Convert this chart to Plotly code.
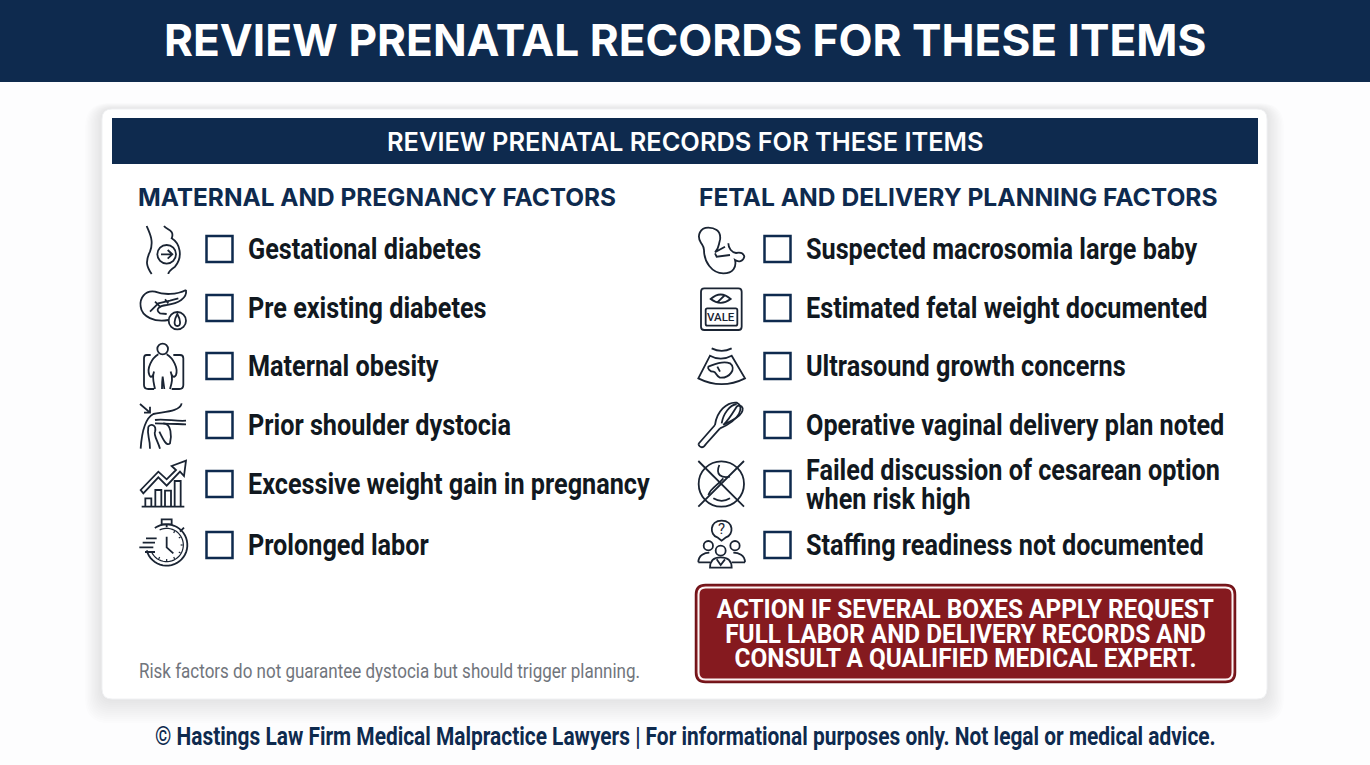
import math
import re
import json
import plotly.graph_objects as go

# ---- content ----
TITLE = "REVIEW PRENATAL RECORDS FOR THESE ITEMS"
LEFT_HEADER = "MATERNAL AND PREGNANCY FACTORS"
RIGHT_HEADER = "FETAL AND DELIVERY PLANNING FACTORS"
LEFT_ITEMS = ["Gestational diabetes", "Pre existing diabetes", "Maternal obesity",
              "Prior shoulder dystocia", "Excessive weight gain in pregnancy", "Prolonged labor"]
RIGHT_ITEMS = [["Suspected macrosomia large baby"], ["Estimated fetal weight documented"],
               ["Ultrasound growth concerns"], ["Operative vaginal delivery plan noted"],
               ["Failed discussion of cesarean option", "when risk high"],
               ["Staffing readiness not documented"]]
ACTION_LINES = ["ACTION IF SEVERAL BOXES APPLY REQUEST", "FULL LABOR AND DELIVERY RECORDS AND",
                "CONSULT A QUALIFIED MEDICAL EXPERT."]
NOTE = "Risk factors do not guarantee dystocia but should trigger planning."
FOOTER = "© Hastings Law Firm Medical Malpractice Lawyers | For informational purposes only. Not legal or medical advice."
ROW_Y = [249, 308, 366, 425, 484, 545]

NAVY = "#0E2A4E"
INK = "#111820"
RED = "#851A1F"
NARROW = "Roboto, sans-serif"
WIDE = "Inter, Open Sans, sans-serif"

shapes = []
annotations = []
squeeze = []


def rr(x0, y0, x1, y1, r):
    return (f"M{x0+r},{y0} L{x1-r},{y0} Q{x1},{y0} {x1},{y0+r} L{x1},{y1-r} Q{x1},{y1} {x1-r},{y1} "
            f"L{x0+r},{y1} Q{x0},{y1} {x0},{y1-r} L{x0},{y0+r} Q{x0},{y0} {x0+r},{y0} Z")


def add_path(d, fill="rgba(0,0,0,0)", line=None, width=0):
    shapes.append(dict(type="path", path=d, xref="x", yref="y", fillcolor=fill,
                       line=dict(color=line or "rgba(0,0,0,0)", width=width), layer="above"))


def rect(x0, y0, x1, y1, fill, line=None, width=0):
    shapes.append(dict(type="rect", x0=x0, y0=y0, x1=x1, y1=y1, xref="x", yref="y", fillcolor=fill,
                       line=dict(color=line or "rgba(0,0,0,0)", width=width), layer="above"))


def text(x, y, s, size, color, family=NARROW, weight=700, anchor="left", sx=1.0):
    annotations.append(dict(x=x - (2 if anchor == "left" else 0), y=y, text=s, xref="x", yref="y",
                            showarrow=False, xanchor=anchor, yanchor="middle", align=anchor,
                            font=dict(family=family, size=size, color=color, weight=weight)))
    squeeze.append([sx, anchor])


def circ(cx, cy, r):
    k = 0.5523 * r
    return (f"M{cx-r},{cy} C{cx-r},{cy-k} {cx-k},{cy-r} {cx},{cy-r} C{cx+k},{cy-r} {cx+r},{cy-k} {cx+r},{cy} "
            f"C{cx+r},{cy+k} {cx+k},{cy+r} {cx},{cy+r} C{cx-k},{cy+r} {cx-r},{cy+k} {cx-r},{cy} Z")


def arc(cx, cy, r, a0, a1, n=24):
    pts = []
    for i in range(n + 1):
        a = math.radians(a0 + (a1 - a0) * i / n)
        pts.append(f"{cx + r*math.cos(a):.1f},{cy + r*math.sin(a):.1f}")
    return "M" + pts[0] + " " + " ".join("L" + p for p in pts[1:])


def icon(d, ox, oy, width=1.8, k=3.0):
    """Draw a path authored in 3x crop coordinates with crop origin (ox, oy)."""
    def repl(m):
        repl.i += 1
        v = float(m.group(0))
        return f"{(ox if repl.i % 2 else oy) + v / k:.2f}"
    repl.i = 0
    add_path(re.sub(r"-?\d+(?:\.\d+)?", repl, d), line="#1A2433", width=width)


# ---- page furniture ----
rect(0, 0, 1370, 82, NAVY)
for grow in range(24, 0, -2):
    add_path(rr(102 - grow * .7, 109 - grow * .25, 1267 + grow * .7, 699 + grow, 12 + grow / 2),
             fill="rgba(45,45,50,0.010)")
add_path(rr(102, 109, 1267, 699, 10), fill="#FFFFFF", line="#F0F1F3", width=1)
rect(112, 118, 1258, 164, NAVY)

text(685, 40, TITLE, 44.2, "#FFFFFF", WIDE, 700, "center")
text(685, 141, TITLE, 25.4, "#FFFFFF", WIDE, 600, "center")
text(138, 197, LEFT_HEADER, 24.4, NAVY, WIDE, 700)
text(699, 197, RIGHT_HEADER, 24.6, NAVY, WIDE, 700)

# ---- checklist rows ----
for y, s in zip(ROW_Y, LEFT_ITEMS):
    rect(206.5, y - 13, 232.5, y + 13, "#FFFFFF", NAVY, 2.5)
    text(248, y, s, 29, INK, sx=0.87)
for y, lines in zip(ROW_Y, RIGHT_ITEMS):
    rect(764.5, y - 13, 790.5, y + 13, "#FFFFFF", NAVY, 2.5)
    for j, s in enumerate(lines):
        text(806, y + (j - (len(lines) - 1) / 2) * 29, s, 29, INK, sx=0.87)

# ---- action box ----
add_path(rr(695.5, 584.5, 1235.5, 682.5, 10), fill=RED, line="#6E1318", width=1.5)
add_path(rr(698.5, 587.5, 1232.5, 679.5, 7), fill=RED, line="#FBF3F3", width=2)
for y, s in zip([609, 633.5, 658], ACTION_LINES):
    text(965, y, s, 26, "#FFFFFF", NARROW, 700, "center", sx=0.937)

text(139, 671, NOTE, 21, "#71757C", NARROW, 400, sx=0.81)
text(685, 736, FOOTER, 25.5, NAVY, NARROW, 700, "center", sx=0.82)

# ---- icons, left column ----
Z1 = (100, 170)
icon("M140,168 C150,190 162,215 150,245 C135,275 140,290 155,312", *Z1)
icon("M192,168 C200,180 225,180 215,205 C240,220 250,260 225,290 C210,300 205,305 205,312", *Z1)
icon(circ(200, 253, 28), *Z1)
icon("M183,253 L217,253 M203,240 L217,253 L203,266", *Z1)
icon("M258,360 C230,375 190,375 165,365 C135,360 118,385 122,410 C125,440 165,458 205,450", *Z1)
icon("M258,360 C262,385 235,400 200,405 C175,408 165,420 180,430 L200,432", *Z1)
icon("M150,425 L175,400 L210,392 L235,385 M165,395 L180,410 M195,388 L205,400", *Z1)
icon(circ(232, 452, 26), *Z1)
icon("M232,432 C222,450 220,468 232,468 C244,468 242,450 232,432 Z", *Z1)

Z6 = (130, 335)
icon(circ(98, 42, 16), *Z6)
icon("M62,60 L50,60 Q42,60 42,70 L42,150 Q42,162 55,162 L72,162", *Z6)
icon("M130,60 L150,60 Q160,60 160,70 L160,150 Q160,162 148,162 L125,162", *Z6)
icon("M85,58 C65,70 50,100 58,120 C62,130 70,125 72,110 C65,130 72,145 75,162", *Z6)
icon("M110,58 C130,70 145,100 138,120 C132,130 125,125 122,110 C130,130 125,145 120,162", *Z6)
icon("M98,125 C96,140 96,150 96,162 M98,125 L103,162", *Z6)

Z2 = (100, 390)
icon("M120,42 L150,68 M150,50 L150,68 L132,68", *Z2)
icon("M245,40 C240,65 190,65 160,72 C135,85 125,130 122,176", *Z2)
icon("M165,90 C190,85 230,95 258,92 M165,100 C190,100 230,102 258,103", *Z2)
icon("M190,100 C215,100 215,140 210,160 C200,170 190,150 178,125", *Z2)
icon("M145,110 C140,140 150,140 150,176 M145,110 C155,100 170,105 165,125 C160,135 172,150 180,176", *Z2)
icon("M122,300 L175,245 L200,268 L228,240 L215,228 L258,212 L252,258 L240,245 L200,287 L175,262 L130,310 Z", *Z2)
icon("M125,350 L253,350", *Z2)
for x0, y0, x1 in [(136, 325, 154), (166, 300, 184), (195, 302, 213), (224, 273, 242)]:
    icon(f"M{x0},350 L{x0},{y0} L{x1},{y0} L{x1},350", *Z2)
icon(arc(200, 465, 62, -125, 165, 36), *Z2)
icon(arc(200, 465, 50, -115, 155, 36), *Z2, width=1.2)
icon("M185,388 L215,388 L215,403 L185,403 Z M200,403 L200,412 M240,425 L252,413", *Z2)
icon("M200,440 L200,472 L220,490", *Z2)
icon("M118,472 L160,472 M128,458 L165,458 M138,445 L170,445 M135,486 L165,486", *Z2)
for deg in range(-60, 121, 30):
    a = math.radians(deg)
    icon(f"M{200+42*math.cos(a):.1f},{465+42*math.sin(a):.1f} L{200+48*math.cos(a):.1f},{465+48*math.sin(a):.1f}",
         *Z2, width=1.2)

# ---- icons, right column ----
Z3 = (680, 215)
icon("M120,75 C125,45 100,38 85,38 C60,38 50,62 62,82 C68,92 72,95 72,105 C72,140 95,175 130,175 "
     "C160,175 170,155 165,135 C175,142 190,140 193,125 C190,112 178,112 168,114 C155,112 145,100 145,85", *Z3)
icon("M120,75 C115,90 118,100 105,112 L135,95 M105,115 L110,125 L150,120", *Z3)
icon(rr(63, 220, 185, 345, 10), *Z3)
icon(rr(77, 280, 172, 332, 5), *Z3)
icon("M92,252 Q122,225 152,252 Q122,275 92,252 Z M112,262 L135,240", *Z3)
text(680 + 124 / 3, 215 + 306 / 3, "VALE", 11.5, "#1A2433", NARROW, 500, "center")
icon("M95,400 Q125,415 155,400", *Z3)
icon("M90,422 Q122,440 155,422 L195,490 Q125,525 55,490 Z", *Z3)
icon("M85,455 C100,450 125,435 150,445 C170,460 150,490 120,488 C105,480 110,472 100,470 C90,470 82,460 85,455 Z"
     " M112,455 L120,470", *Z3)

Z4 = (680, 400)
icon("M55,132 C60,145 70,145 78,132 L120,85 M55,132 L105,75", *Z4)
icon("M105,75 C110,35 140,5 170,8 C195,20 180,60 120,85", *Z4)
icon("M125,70 C130,40 150,15 170,12 M130,75 C160,60 190,45 188,25 C185,15 175,15 170,20 C160,35 150,55 130,75", *Z4)
icon(circ(124, 252, 68), *Z4)
icon("M55,183 L192,320 M192,183 L55,320", *Z4)
icon("M118,195 C105,225 125,235 150,230 M85,285 C95,260 110,260 130,235 M100,295 Q125,310 150,295", *Z4)
icon("M125,422 L112,412 C88,405 88,362 125,362 C162,362 162,405 138,412 Z", *Z4)
text(680 + 125 / 3, 400 + 388 / 3, "?", 15, "#1A2433", NARROW, 400, "center")
icon(circ(85, 437, 14) + circ(165, 437, 14) + circ(122, 452, 15), *Z4)
icon("M55,487 C55,465 75,458 88,458 M195,487 C195,465 175,458 160,458 M55,487 L90,487 M195,487 L155,487", *Z4)
icon("M90,503 C90,480 105,472 122,472 C140,472 155,480 155,503 Z M110,478 L122,495 L135,478", *Z4)

fig = go.Figure()
fig.update_layout(
    width=1370, height=765, margin=dict(l=0, r=0, t=0, b=0), autosize=False,
    paper_bgcolor="#FDFDFE", plot_bgcolor="#FDFDFE", showlegend=False,
    xaxis=dict(range=[0, 1370], visible=False, fixedrange=True),
    yaxis=dict(range=[765, 0], visible=False, fixedrange=True),
    shapes=shapes, annotations=annotations,
)
# No condensed face is installed, so the condensed look of the reference type is done by
# narrowing each real text element horizontally around its own anchor.
post = """
document.body.style.margin='0';document.body.style.overflow='hidden';
var sq=%s;
function narrow(){
  sq.forEach(function(p,i){
    if(p[0]===1)return;
    var t=document.querySelector('.annotation[data-index="'+i+'"] text');
    if(!t)return;
    t.style.transformBox='fill-box';
    t.style.transformOrigin=(p[1]==='left'?'left':'center')+' center';
    t.style.transform='scaleX('+p[0]+')';
  });
}
narrow();
""" % json.dumps(squeeze)
fig.write_html("out.html", config=dict(displayModeBar=False), post_script=post)
